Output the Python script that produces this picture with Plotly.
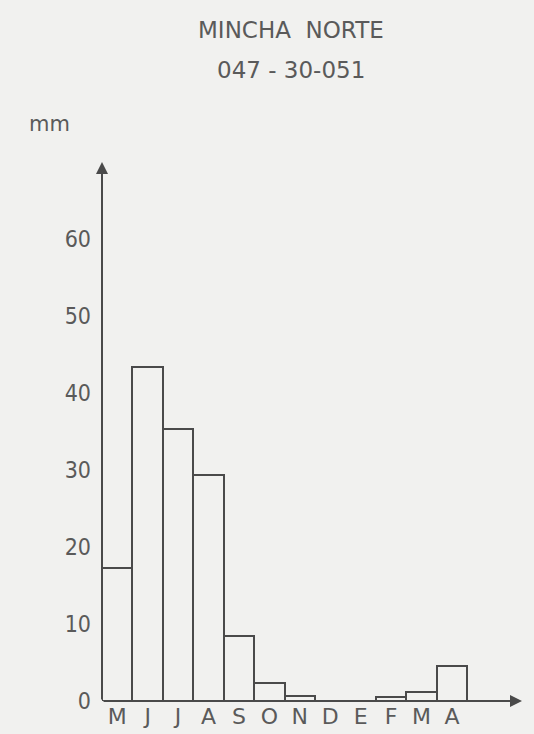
import plotly.graph_objects as go

months = ["M", "J", "J", "A", "S", "O", "N", "D", "E", "F", "M", "A"]
rain_mm = [17.3, 43.4, 35.3, 29.4, 8.4, 2.4, 0.6, 0.0, 0.0, 0.5, 1.2, 4.5]
y_ticks = [0, 10, 20, 30, 40, 50, 60]
title_line1 = "MINCHA  NORTE"
title_line2 = "047 - 30-051"
unit_label = "mm"

bg = "#f1f1ef"
ink = "#4a4a4a"
txt = "#5a5a5a"
font_cond = "DejaVu Sans Condensed, DejaVu Sans, sans-serif"
font_wide = "DejaVu Sans, sans-serif"

W, H = 534, 734
ML, MR, MT, MB = 102, 12, 162, 33

x = list(range(len(months)))

fig = go.Figure()
fig.add_trace(go.Bar(
    x=x, y=rain_mm, width=1.0,
    marker=dict(color=bg, line=dict(color=ink, width=2)),
    hoverinfo="x+y",
))

fig.update_layout(
    width=W, height=H,
    paper_bgcolor=bg, plot_bgcolor=bg,
    margin=dict(l=ML, r=MR, t=MT, b=MB, autoexpand=False),
    showlegend=False,
    bargap=0,
    font=dict(family=font_cond, color=txt),
    xaxis=dict(
        range=[-0.5, 13.3], showgrid=False, zeroline=False, showline=False,
        tickmode="array", tickvals=x, ticktext=months, ticks="",
        tickfont=dict(size=22, color=txt, family=font_wide), ticklabelstandoff=0,
        automargin=False,
    ),
    yaxis=dict(
        range=[0, 70], showgrid=False, zeroline=False, showline=False,
        tickmode="array", tickvals=y_ticks, ticks="",
        tickfont=dict(size=23, color=txt), ticklabelstandoff=10,
        automargin=False,
    ),
)

# axes with arrows
fig.add_annotation(x=-0.5, y=70, ax=-0.5, ay=0, xref="x", yref="y", axref="x", ayref="y",
                   showarrow=True, arrowhead=2, arrowsize=1.2, arrowwidth=2, arrowcolor=ink, text="")
fig.add_annotation(x=13.3, y=0, ax=-0.5, ay=0, xref="x", yref="y", axref="x", ayref="y",
                   showarrow=True, arrowhead=2, arrowsize=1.2, arrowwidth=2, arrowcolor=ink, text="")


def px_to_paper(px, py):
    pw = W - ML - MR
    ph = H - MT - MB
    return (px - ML) / pw, (H - MB - py) / ph


for label, (px, py), size, fam in [
    (title_line1, (291, 30), 23, font_wide),
    (title_line2, (291, 70), 23, font_wide),
    (unit_label, (49, 124), 21, font_wide),
]:
    xp, yp = px_to_paper(px, py)
    fig.add_annotation(x=xp, y=yp, xref="paper", yref="paper", text=label, showarrow=False,
                       xanchor="center", yanchor="middle",
                       font=dict(size=size, color=txt, family=fam))

fig.write_html("out.html", config={"displayModeBar": False},
               post_script="document.body.style.margin='0';")
